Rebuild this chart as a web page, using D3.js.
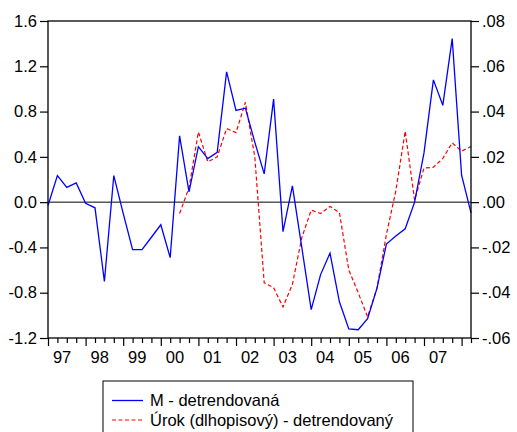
<!DOCTYPE html>
<html>
<head>
<meta charset="utf-8">
<script src="https://cdn.jsdelivr.net/npm/d3@7"></script>
<style>
  body { margin: 0; background: #fff; }
  text { font-family: "Liberation Sans", Arial, sans-serif; }
</style>
</head>
<body>
<script>
"use strict";

// quarterly observations 1997Q1 .. 2008Q2
var years = ["97", "98", "99", "00", "01", "02", "03", "04", "05", "06", "07"];

var mDetrend = [
  -0.03, 0.235, 0.13, 0.17,
  -0.01, -0.05, -0.70, 0.235,
  -0.10, -0.42, -0.42, -0.31,
  -0.20, -0.49, 0.585, 0.09,
  0.49, 0.385, 0.44, 1.15,
  0.81, 0.83, 0.53, 0.25,
  0.91, -0.26, 0.144, -0.40,
  -0.95, -0.64, -0.45, -0.88,
  -1.12, -1.127, -1.03, -0.76,
  -0.37, -0.30, -0.235, 0.0,
  0.435, 1.08, 0.855, 1.444,
  0.238, -0.094
];

var urokDetrend = [
  null, null, null, null,
  null, null, null, null,
  null, null, null, null,
  null, null, -0.005, 0.0063,
  0.031, 0.0178, 0.020, 0.0325,
  0.0307, 0.0441, 0.020, -0.0356,
  -0.0378, -0.0463, -0.0363, -0.0157,
  -0.0035, -0.005, -0.0019, -0.0046,
  -0.030, -0.040, -0.0507, -0.038,
  -0.0143, 0.0049, 0.0313, 0.0009,
  0.0151, 0.0154, 0.0193, 0.0262,
  0.0225, 0.0246
];

var leftTicks = [-1.2, -0.8, -0.4, 0.0, 0.4, 0.8, 1.2, 1.6];
var rightTicks = [-0.06, -0.04, -0.02, 0.00, 0.02, 0.04, 0.06, 0.08];
var legendLabels = ["M - detrendovaná", "Úrok (dlhopisový) - detrendovaný"];

var width = 517;
var height = 432;
var plotL = 48, plotR = 471, plotT = 21, plotB = 338;
var fontSize = 16.5;

var svg = d3.select("body").append("svg").attr("width", width).attr("height", height);

// Scales
var xScale = d3.scaleLinear().domain([0, mDetrend.length - 1]).range([plotL, plotR]);
var yLeft = d3.scaleLinear().domain([-1.2, 1.6]).range([plotB, plotT]);
var yRight = d3.scaleLinear().domain([-0.06, 0.08]).range([plotB, plotT]);

var fmtLeft = function (d) { return d3.format(".1f")(d).replace("\u2212", "-"); };
var fmtRight = function (d) { return d3.format(".2f")(d).replace("\u2212", "-").replace("0.", "."); };

// zero line
svg.append("line").attr("x1", plotL).attr("x2", plotR)
  .attr("y1", yLeft(0)).attr("y2", yLeft(0))
  .attr("stroke", "#000").attr("stroke-width", 1);

// Lines
var lineM = d3.line().x(function (d, i) { return xScale(i); }).y(function (d) { return yLeft(d); });
var lineU = d3.line().defined(function (d) { return d !== null; })
  .x(function (d, i) { return xScale(i); }).y(function (d) { return yRight(d); });

svg.append("path").datum(urokDetrend).attr("d", lineU)
  .attr("fill", "none").attr("stroke", "#ff0000").attr("stroke-width", 1.2)
  .attr("stroke-dasharray", "4,2.5");
svg.append("path").datum(mDetrend).attr("d", lineM)
  .attr("fill", "none").attr("stroke", "#0000ff").attr("stroke-width", 1.3);

// Frame
svg.append("rect").attr("x", plotL).attr("y", plotT)
  .attr("width", plotR - plotL).attr("height", plotB - plotT)
  .attr("fill", "none").attr("stroke", "#000").attr("stroke-width", 1.3);

// Axes
var yAxisL = d3.axisLeft(yLeft).tickValues(leftTicks).tickFormat(fmtLeft).tickSize(8).tickPadding(3);
svg.append("g").attr("transform", "translate(" + plotL + ",0)").call(yAxisL);

var yAxisR = d3.axisRight(yRight).tickValues(rightTicks).tickFormat(fmtRight).tickSize(8).tickPadding(3);
svg.append("g").attr("transform", "translate(" + plotR + ",0)").call(yAxisR);

var quarters = d3.range(mDetrend.length);
var xAxisMinor = d3.axisBottom(xScale).tickValues(quarters.filter(function (i) { return i % 4 !== 0; }))
  .tickSize(5).tickFormat("");
svg.append("g").attr("transform", "translate(0," + plotB + ")").call(xAxisMinor);
var xAxisMajor = d3.axisBottom(xScale).tickValues(quarters.filter(function (i) { return i % 4 === 0; }))
  .tickSize(8).tickFormat("");
svg.append("g").attr("transform", "translate(0," + plotB + ")").call(xAxisMajor);

svg.selectAll("g .domain").remove();
svg.selectAll("g .tick line").attr("stroke", "#000").attr("stroke-width", 1.2);
svg.selectAll("g .tick text").attr("font-size", fontSize).attr("fill", "#000")
  .attr("font-family", "Liberation Sans, Arial, sans-serif");

// year labels, centred between Q1 and Q4
svg.append("g").selectAll("text").data(years).enter().append("text")
  .attr("x", function (d, i) { return xScale(i * 4 + 1.5); })
  .attr("y", 363)
  .attr("text-anchor", "middle")
  .attr("font-size", fontSize)
  .text(function (d) { return d; });

// Legend
var lg = svg.append("g");
lg.append("rect").attr("x", 103).attr("y", 381).attr("width", 310).attr("height", 60)
  .attr("fill", "#fff").attr("stroke", "#000").attr("stroke-width", 1);
lg.append("line").attr("x1", 112).attr("x2", 143).attr("y1", 400.5).attr("y2", 400.5)
  .attr("stroke", "#0000ff").attr("stroke-width", 1.3);
lg.append("line").attr("x1", 112).attr("x2", 143).attr("y1", 420).attr("y2", 420)
  .attr("stroke", "#ff0000").attr("stroke-width", 1.2).attr("stroke-dasharray", "4,2.5");
lg.selectAll("text").data(legendLabels).enter().append("text")
  .attr("x", 150)
  .attr("y", function (d, i) { return 406 + i * 19.5; })
  .attr("font-size", fontSize)
  .text(function (d) { return d; });
</script>
</body>
</html>
